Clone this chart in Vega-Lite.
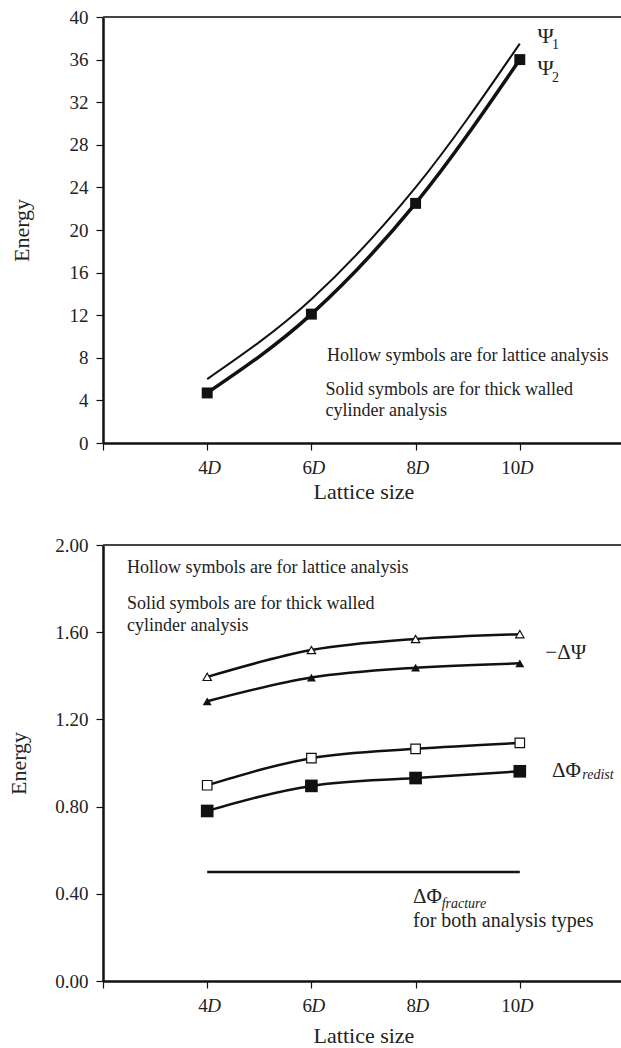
{
  "$schema": "https://vega.github.io/schema/vega-lite/v6.json",
  "padding": {"left": 7, "top": 8, "right": 0, "bottom": 0},
  "background": "white",
  "spacing": 34,
  "config": {
    "view": {"stroke": null},
    "font": "Liberation Serif",
    "axis": {"grid": false, "domainColor": "#111", "domainWidth": 2.5, "tickColor": "#111", "tickWidth": 1.2, "tickSize": 7, "labelFont": "Liberation Serif", "labelFontSize": 19, "labelColor": "#222", "titleFont": "Liberation Serif", "titleFontSize": 22, "titleFontWeight": "normal", "titleColor": "#222", "labelPadding": 8},
    "text": {"font": "Liberation Serif", "color": "#222"}
  },
  "datasets": {
    "top": [
      {"x": 4, "y": 6.0, "s": "Psi1"}, {"x": 6, "y": 13.5, "s": "Psi1"}, {"x": 8, "y": 24.0, "s": "Psi1"}, {"x": 10, "y": 37.5, "s": "Psi1"},
      {"x": 4, "y": 4.7, "s": "Psi2"}, {"x": 6, "y": 12.1, "s": "Psi2"}, {"x": 8, "y": 22.5, "s": "Psi2"}, {"x": 10, "y": 36.0, "s": "Psi2"}
    ],
    "topnotes": [
      {"x": 6.3, "y": 8.15, "t": "Hollow symbols are for lattice analysis", "k": "note"},
      {"x": 6.27, "y": 4.95, "t": "Solid symbols are for thick walled", "k": "note"},
      {"x": 6.27, "y": 3.0, "t": "cylinder analysis", "k": "note"},
      {"x": 10.34, "y": 38.2, "t": "Ψ", "k": "greek"},
      {"x": 10.34, "y": 35.2, "t": "Ψ", "k": "greek"},
      {"x": 10.62, "y": 37.4, "t": "1", "k": "sub"},
      {"x": 10.62, "y": 34.3, "t": "2", "k": "sub"}
    ],
    "ticksD": [{"x": 4, "y": 0, "t": "D"}, {"x": 6, "y": 0, "t": "D"}, {"x": 8, "y": 0, "t": "D"}, {"x": 10, "y": 0, "t": "D"}],
    "bottom": [
      {"x": 4, "y": 1.395, "s": "dPsiLattice"}, {"x": 6, "y": 1.518, "s": "dPsiLattice"}, {"x": 8, "y": 1.569, "s": "dPsiLattice"}, {"x": 10, "y": 1.591, "s": "dPsiLattice"},
      {"x": 4, "y": 1.283, "s": "dPsiCylinder"}, {"x": 6, "y": 1.392, "s": "dPsiCylinder"}, {"x": 8, "y": 1.437, "s": "dPsiCylinder"}, {"x": 10, "y": 1.457, "s": "dPsiCylinder"},
      {"x": 4, "y": 0.898, "s": "dPhiLattice"}, {"x": 6, "y": 1.022, "s": "dPhiLattice"}, {"x": 8, "y": 1.065, "s": "dPhiLattice"}, {"x": 10, "y": 1.092, "s": "dPhiLattice"},
      {"x": 4, "y": 0.78, "s": "dPhiCylinder"}, {"x": 6, "y": 0.895, "s": "dPhiCylinder"}, {"x": 8, "y": 0.931, "s": "dPhiCylinder"}, {"x": 10, "y": 0.962, "s": "dPhiCylinder"},
      {"x": 4, "y": 0.5, "s": "fracture"}, {"x": 10, "y": 0.5, "s": "fracture"}
    ],
    "botnotes": [
      {"x": 2.46, "y": 1.895, "t": "Hollow symbols are for lattice analysis", "k": "note"},
      {"x": 2.46, "y": 1.729, "t": "Solid symbols are for thick walled", "k": "note"},
      {"x": 2.46, "y": 1.629, "t": "cylinder analysis", "k": "note"},
      {"x": 7.95, "y": 0.277, "t": "for both analysis types", "k": "big"},
      {"x": 10.49, "y": 1.503, "t": "−ΔΨ", "k": "greek"},
      {"x": 10.62, "y": 0.965, "t": "ΔΦ", "k": "greek"},
      {"x": 7.95, "y": 0.385, "t": "ΔΦ", "k": "greek"},
      {"x": 11.2, "y": 0.945, "t": "redist", "k": "subit"},
      {"x": 8.5, "y": 0.355, "t": "fracture", "k": "subit"}
    ]
  },
  "vconcat": [
    {
      "width": 521,
      "height": 426,
      "encoding": {
        "x": {"field": "x", "type": "quantitative", "title": "Lattice size", "scale": {"domain": [2, 12], "nice": false, "zero": false},
              "axis": {"values": [2, 4, 6, 8, 10], "labelExpr": "datum.value == 2 ? '' : datum.value", "labelAlign": "right", "labelDx": 0, "titlePadding": 4}},
        "y": {"field": "y", "type": "quantitative", "title": "Energy", "scale": {"domain": [0, 40], "nice": false},
              "axis": {"values": [0, 4, 8, 12, 16, 20, 24, 28, 32, 36, 40], "titlePadding": 36}}
      },
      "layer": [
        {"data": {"name": "top"}, "mark": {"type": "rule", "color": "#444", "strokeWidth": 1.5},
         "encoding": {"y": {"datum": 40, "type": "quantitative"}, "x": {"datum": 2, "type": "quantitative"}, "x2": {"datum": 12}}},
        {"data": {"name": "top"}, "transform": [{"filter": "datum.s == 'Psi1'"}],
         "mark": {"type": "line", "color": "#111", "strokeWidth": 2, "interpolate": "monotone"}, "encoding": {}},
        {"data": {"name": "top"}, "transform": [{"filter": "datum.s == 'Psi2'"}],
         "mark": {"type": "line", "color": "#111", "strokeWidth": 3.5, "interpolate": "monotone"}, "encoding": {}},
        {"data": {"name": "top"}, "transform": [{"filter": "datum.s == 'Psi2'"}],
         "mark": {"type": "point", "shape": "square", "filled": true, "color": "#111", "size": 120, "opacity": 1}},
        {"data": {"name": "topnotes"}, "transform": [{"filter": "datum.k == 'note'"}],
         "mark": {"type": "text", "align": "left", "baseline": "middle", "fontSize": 18}, "encoding": {"text": {"field": "t"}}},
        {"data": {"name": "topnotes"}, "transform": [{"filter": "datum.k == 'greek'"}],
         "mark": {"type": "text", "align": "left", "baseline": "middle", "fontSize": 22}, "encoding": {"text": {"field": "t"}}},
        {"data": {"name": "topnotes"}, "transform": [{"filter": "datum.k == 'sub'"}],
         "mark": {"type": "text", "align": "left", "baseline": "middle", "fontSize": 14}, "encoding": {"text": {"field": "t"}}},
        {"data": {"name": "ticksD"},
         "mark": {"type": "text", "align": "left", "baseline": "top", "fontSize": 19, "fontStyle": "italic", "dy": 16},
         "encoding": {"text": {"field": "t"}}}
      ]
    },
    {
      "width": 521,
      "height": 436,
      "encoding": {
        "x": {"field": "x", "type": "quantitative", "title": "Lattice size", "scale": {"domain": [2, 12], "nice": false, "zero": false},
              "axis": {"values": [2, 4, 6, 8, 10], "labelExpr": "datum.value == 2 ? '' : datum.value", "labelAlign": "right", "labelDx": -3, "titlePadding": 10}},
        "y": {"field": "y", "type": "quantitative", "title": "Energy", "scale": {"domain": [0, 2], "nice": false},
              "axis": {"values": [0, 0.4, 0.8, 1.2, 1.6, 2.0], "format": ".2f", "titlePadding": 24}}
      },
      "layer": [
        {"data": {"name": "bottom"}, "mark": {"type": "rule", "color": "#444", "strokeWidth": 1.5},
         "encoding": {"y": {"datum": 2, "type": "quantitative"}, "x": {"datum": 2, "type": "quantitative"}, "x2": {"datum": 12}}},
        {"data": {"name": "bottom"}, "transform": [{"filter": "datum.s != 'fracture'"}],
         "mark": {"type": "line", "color": "#111", "strokeWidth": 2.5, "interpolate": "monotone"},
         "encoding": {"detail": {"field": "s"}}},
        {"data": {"name": "bottom"}, "transform": [{"filter": "datum.s == 'fracture'"}],
         "mark": {"type": "line", "color": "#111", "strokeWidth": 2.5}, "encoding": {}},
        {"data": {"name": "bottom"}, "transform": [{"filter": "datum.s == 'dPsiLattice'"}],
         "mark": {"type": "point", "shape": "triangle-up", "filled": true, "fill": "white", "stroke": "#111", "strokeWidth": 1.2, "size": 70, "opacity": 1}},
        {"data": {"name": "bottom"}, "transform": [{"filter": "datum.s == 'dPsiCylinder'"}],
         "mark": {"type": "point", "shape": "triangle-up", "filled": true, "color": "#111", "size": 80, "opacity": 1}},
        {"data": {"name": "bottom"}, "transform": [{"filter": "datum.s == 'dPhiLattice'"}],
         "mark": {"type": "point", "shape": "square", "filled": true, "fill": "white", "stroke": "#111", "strokeWidth": 1.2, "size": 90, "opacity": 1}},
        {"data": {"name": "bottom"}, "transform": [{"filter": "datum.s == 'dPhiCylinder'"}],
         "mark": {"type": "point", "shape": "square", "filled": true, "color": "#111", "size": 160, "opacity": 1}},
        {"data": {"name": "botnotes"}, "transform": [{"filter": "datum.k == 'note'"}],
         "mark": {"type": "text", "align": "left", "baseline": "middle", "fontSize": 18}, "encoding": {"text": {"field": "t"}}},
        {"data": {"name": "botnotes"}, "transform": [{"filter": "datum.k == 'big'"}],
         "mark": {"type": "text", "align": "left", "baseline": "middle", "fontSize": 20}, "encoding": {"text": {"field": "t"}}},
        {"data": {"name": "botnotes"}, "transform": [{"filter": "datum.k == 'greek'"}],
         "mark": {"type": "text", "align": "left", "baseline": "middle", "fontSize": 21}, "encoding": {"text": {"field": "t"}}},
        {"data": {"name": "botnotes"}, "transform": [{"filter": "datum.k == 'subit'"}],
         "mark": {"type": "text", "align": "left", "baseline": "middle", "fontSize": 14, "fontStyle": "italic"}, "encoding": {"text": {"field": "t"}}},
        {"data": {"name": "ticksD"},
         "mark": {"type": "text", "align": "left", "baseline": "top", "fontSize": 19, "fontStyle": "italic", "dy": 16},
         "encoding": {"text": {"field": "t"}}}
      ]
    }
  ]
}
